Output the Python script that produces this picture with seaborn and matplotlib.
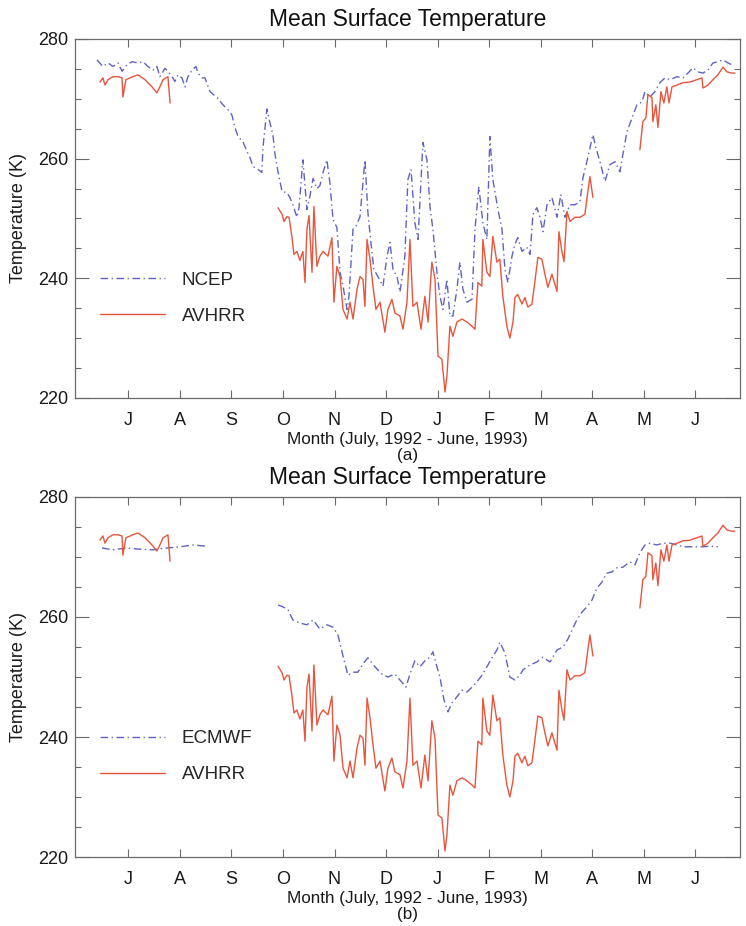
import numpy as np
import pandas as pd
import matplotlib
matplotlib.use("Agg")
import matplotlib.pyplot as plt
import seaborn as sns
from matplotlib.lines import Line2D
from matplotlib.ticker import MultipleLocator

sns.set_theme(style="ticks")
plt.rcParams["font.family"] = ["Liberation Sans", "DejaVu Sans"]

# ---------------- data (day of record, July 1 1992 = 0) ----------------
month_labels = ["J", "A", "S", "O", "N", "D", "J", "F", "M", "A", "M", "J"]

ncep_day = [0, 3.4, 6.3, 9.1, 12.0, 14.3, 17.1, 20.0, 23.4, 26.2,
            29.1, 32.0, 34.2, 35.9, 38.8, 40.5, 42.8, 44.5, 46.2, 48.5,
            50.2, 51.9, 54.2, 56.5, 57.6, 59.9, 61.6, 64.5, 68.5, 71.9,
            74.7, 77.0, 78.7, 80.5, 83.3, 85.6, 87.3, 89.0, 91.9, 94.1,
            94.7, 97.0, 98.7, 100.4, 101.6, 103.3, 105.6, 108.4, 110.1, 111.8,
            114.1, 115.3, 117.5, 119.8, 121.5, 123.3, 125.5, 127.2, 129.0, 131.2,
            132.9, 134.7, 136.9, 138.7, 140.4, 142.7, 143.8, 146.1, 147.8, 150.1,
            152.9, 154.6, 156.3, 158.0, 160.3, 163.2, 165.5, 167.2, 168.9, 171.2,
            172.9, 175.7, 177.4, 179.2, 181.4, 183.2, 186.0, 188.3, 190.0, 191.7,
            194.0, 195.7, 197.4, 199.7, 201.4, 203.1, 205.4, 207.1, 208.8, 211.1,
            214.0, 215.7, 217.9, 220.2, 222.5, 224.2, 225.9, 228.8, 231.1, 232.8,
            234.5, 236.8, 238.5, 240.1, 242.5, 245.3, 247.1, 248.8, 251.0, 252.8,
            254.5, 256.8, 259.6, 262.5, 264.7, 267.0, 269.9, 272.7, 275.6, 277.3,
            280.1, 283.0, 284.7, 287.0, 289.9, 292.7, 295.6, 298.4, 300.1, 302.4,
            305.3, 308.1, 311.0, 312.7, 315.5, 318.4, 321.2, 324.1, 327.0, 331.0,
            334.4, 337.2, 340.1, 342.9, 345.8, 348.6, 351.5, 354.3, 357.2, 360.0,
            362.3]
ncep_temp = [276.5, 275.4, 276.0, 275.4, 276.0, 274.6, 275.7, 276.2, 276.0, 276.2,
             275.4, 274.8, 275.4, 273.7, 275.1, 274.6, 273.7, 272.9, 274.0, 273.5,
             272.0, 273.7, 274.8, 275.4, 274.3, 273.5, 273.5, 271.2, 270.2, 269.0,
             268.2, 267.3, 265.2, 263.7, 262.8, 261.2, 260.2, 258.7, 258.2, 257.7,
             261.8, 268.3, 266.0, 264.0, 260.7, 257.8, 254.5, 254.3, 253.5, 252.3,
             250.2, 251.8, 259.8, 251.5, 253.7, 256.7, 255.0, 255.5, 257.7, 259.8,
             256.0, 249.8, 248.5, 241.0, 238.7, 234.8, 237.0, 248.2, 248.7, 250.3,
             259.8, 251.0, 246.0, 241.5, 240.3, 238.7, 243.7, 246.0, 241.5, 240.3,
             237.7, 243.7, 256.5, 258.2, 249.3, 246.5, 262.7, 259.8, 252.0, 248.2,
             241.0, 237.0, 234.8, 239.8, 233.7, 233.7, 238.2, 242.7, 238.2, 236.0,
             236.5, 248.2, 255.3, 249.3, 246.5, 263.7, 256.5, 251.5, 248.2, 241.5,
             239.3, 243.7, 245.7, 246.8, 244.5, 245.2, 244.0, 250.7, 251.8, 250.2,
             247.8, 252.3, 253.5, 250.2, 254.0, 250.2, 252.3, 252.3, 252.8, 256.8,
             260.2, 264.0, 261.8, 259.5, 256.2, 259.0, 259.5, 257.8, 260.7, 264.5,
             266.8, 269.0, 269.5, 271.2, 270.3, 271.2, 272.7, 273.5, 273.2, 273.7,
             273.5, 274.3, 275.2, 274.5, 274.3, 274.8, 276.0, 276.2, 276.5, 276.0,
             275.7]

avhrr_day = [1.7, 3.4, 4.6, 6.3, 9.1, 12.0, 14.3, 14.8, 16.5, 20.5,
             23.4, 27.4, 31.4, 34.2, 35.9, 37.7, 40.5, 41.7,
             70.0,
             103.3, 105.6, 106.7, 108.4, 109.6, 111.3, 112.4, 114.1, 115.8, 117.5,
             118.7, 119.8, 121.0, 122.7, 123.8, 125.5, 127.2, 129.0, 131.8, 134.1,
             135.2, 136.9, 138.7, 140.4, 142.7, 144.4, 146.1, 148.4, 150.1, 151.8,
             152.9, 154.1, 155.8, 157.5, 159.2, 161.5, 164.3, 166.0, 168.3, 170.0,
             172.9, 174.6, 176.9, 178.6, 180.3, 182.6, 184.9, 187.1, 188.9, 191.1,
             192.9, 194.6, 196.8, 198.6, 199.7, 201.4, 203.1, 205.4, 208.3, 211.1,
             214.0, 215.7, 217.4, 219.6, 220.2, 222.5, 224.2, 225.9, 228.2, 229.9,
             231.6, 233.9, 235.6, 237.4, 238.5, 240.1, 242.5, 244.2, 245.9, 248.2,
             249.9, 251.6, 253.9, 255.6, 257.3, 259.6, 262.5, 263.6, 265.3, 266.5,
             268.2, 269.9, 272.7, 275.6, 278.4, 280.1, 281.3, 283.0,
             295.0,
             309.8, 311.5, 313.2, 314.4, 316.7, 317.2, 318.9, 320.1, 321.8, 323.5,
             325.2, 326.4, 328.1, 331.0, 334.4, 338.4, 342.3, 345.2, 345.8, 348.6,
             351.5, 354.3, 357.2, 359.5, 362.3, 364.0]
avhrr_temp = [272.8, 273.5, 272.3, 273.2, 273.7, 273.7, 273.5, 270.3, 273.2, 273.7,
              274.0, 273.2, 272.0, 271.0, 272.0, 273.2, 273.7, 269.3,
              np.nan,
              251.8, 250.7, 249.5, 250.3, 250.2, 246.8, 244.0, 244.5, 243.0, 244.5,
              239.3, 248.2, 250.5, 241.0, 252.0, 242.0, 243.7, 244.5, 243.7, 246.8,
              236.0, 242.0, 240.3, 234.8, 233.2, 236.0, 233.2, 238.2, 240.3, 239.8,
              235.3, 246.5, 243.2, 238.7, 234.8, 236.0, 231.0, 234.8, 236.5, 234.2,
              233.7, 231.5, 236.0, 246.5, 235.3, 236.0, 231.5, 237.0, 232.7, 242.7,
              239.8, 227.0, 226.5, 221.0, 223.7, 232.0, 230.3, 232.7, 233.2, 232.7,
              232.0, 231.5, 239.3, 238.7, 246.5, 241.0, 240.3, 247.0, 242.7, 243.2,
              237.0, 232.0, 230.0, 232.7, 236.8, 237.3, 235.7, 236.8, 235.2, 235.7,
              239.5, 243.5, 243.2, 240.7, 238.5, 240.7, 237.8, 247.8, 244.5, 242.8,
              251.2, 249.5, 250.2, 250.2, 250.7, 254.5, 257.0, 253.5,
              np.nan,
              261.5, 266.2, 266.8, 270.7, 270.2, 266.2, 269.0, 265.2, 271.2, 269.3,
              272.0, 269.3, 272.0, 272.3, 272.7, 272.8, 273.2, 273.5, 271.8, 272.3,
              273.2, 274.0, 275.3, 274.5, 274.3, 274.3]

ecmwf_day = [2.9, 9.1, 17.1, 24.5, 32.0, 39.9, 47.4, 54.8, 62.7,
             80.0,
             103.3, 106.1, 109.0, 111.8, 115.8, 119.8, 123.3, 127.2, 131.2, 134.7,
             137.5, 140.4, 143.2, 146.1, 148.9, 151.8, 154.6, 158.6, 162.6, 166.0,
             170.0, 172.9, 176.3, 178.6, 181.4, 184.3, 187.1, 190.0, 191.7, 194.0,
             195.7, 198.0, 200.3, 202.6, 205.4, 208.3, 211.1, 214.0, 216.8, 219.7,
             222.5, 225.4, 228.2, 229.9, 232.8, 235.6, 238.5, 241.3, 243.1, 247.1,
             251.0, 254.5, 258.5, 262.5, 265.9, 268.7, 271.0, 273.8, 276.7, 279.6,
             282.4, 285.3, 288.1, 291.0, 293.8, 296.7, 300.1, 304.1, 307.0, 309.8,
             312.7, 315.5, 319.5, 322.9, 327.0, 331.0, 334.4, 338.4, 342.3, 345.8,
             349.8, 354.3]
ecmwf_temp = [271.5, 271.2, 271.5, 271.3, 271.2, 271.5, 271.7, 272.0, 271.8,
              np.nan,
              262.0, 261.7, 261.2, 259.5, 259.0, 258.7, 259.5, 258.0, 258.7, 258.3,
              257.0, 253.5, 250.3, 250.8, 250.8, 252.2, 253.2, 251.7, 250.5, 250.0,
              250.5, 249.5, 248.3, 250.5, 252.7, 251.7, 252.7, 253.3, 254.2, 251.7,
              250.0, 246.2, 244.2, 245.7, 246.7, 247.8, 247.5, 248.3, 249.2, 250.3,
              251.7, 253.2, 254.5, 255.8, 254.0, 250.0, 249.5, 250.3, 251.2, 252.0,
              252.5, 253.3, 252.5, 254.5, 255.0, 256.3, 257.8, 259.5, 260.8, 261.7,
              262.8, 264.8, 265.8, 267.3, 267.5, 268.2, 268.3, 269.2, 268.7, 270.7,
              272.0, 272.3, 272.0, 272.3, 272.3, 272.0, 271.7, 271.7, 271.7, 271.7,
              271.8, 271.7]

# ---------------- styling ----------------
BLUE = "#5f62c4"
RED = "#e8553d"
DASHDOT = (5.5, 2.5, 1.0, 2.5)
SPINE = "#6a6a6a"


def to_df(days, temps):
    df = pd.DataFrame({"day": days, "temp": temps})
    df["seg"] = df["temp"].isna().cumsum()
    return df.dropna()


df_ncep = to_df(ncep_day, ncep_temp)
df_avhrr = to_df(avhrr_day, avhrr_temp)
df_ecmwf = to_df(ecmwf_day, ecmwf_temp)

tick_pos = 17.9 + 29.41 * np.arange(12)

fig = plt.figure(figsize=(7.46, 9.26), dpi=100)
ax_a = fig.add_axes([0.1005, 0.5702, 0.8914, 0.3877])
ax_b = fig.add_axes([0.1005, 0.0745, 0.8914, 0.3888])


def draw(ax, df_model, model_name, panel):
    sns.lineplot(data=df_model, x="day", y="temp", units="seg", estimator=None,
                 sort=False, color=BLUE, linewidth=1.0, dashes=False,
                 linestyle=(0, DASHDOT), ax=ax, legend=False)
    sns.lineplot(data=df_avhrr, x="day", y="temp", units="seg", estimator=None,
                 sort=False, color=RED, linewidth=1.0, ax=ax, legend=False)
    ax.set_xlim(-12.55, 366.9)
    ax.set_ylim(220, 280)
    ax.set_xticks(tick_pos)
    ax.set_xticklabels(month_labels)
    ax.yaxis.set_major_locator(MultipleLocator(20))
    ax.yaxis.set_minor_locator(MultipleLocator(5))
    ax.tick_params(axis="x", which="both", direction="in", top=True, bottom=True,
                   length=6, width=0.8, color=SPINE, labelsize=13, pad=10,
                   labelcolor="#1a1a1a")
    ax.tick_params(axis="y", which="major", direction="in", left=True, right=True,
                   length=10, width=0.8, color=SPINE, labelsize=13, pad=5,
                   labelcolor="#1a1a1a")
    ax.tick_params(axis="y", which="minor", direction="in", left=True, right=True,
                   length=4, width=0.8, color=SPINE)
    for s in ax.spines.values():
        s.set_color(SPINE)
        s.set_linewidth(0.9)
    ax.set_title("Mean Surface Temperature", fontsize=16.5, pad=9, color="#111111")
    ax.set_xlabel("Month (July, 1992 - June, 1993)\n" + panel, fontsize=12.3,
                  linespacing=1.15, labelpad=2, color="#1a1a1a")
    ax.set_ylabel("Temperature (K)", fontsize=13, labelpad=8, color="#1a1a1a")
    handles = [Line2D([], [], color=BLUE, linewidth=1.0, linestyle=(0, DASHDOT)),
               Line2D([], [], color=RED, linewidth=1.0)]
    ax.legend(handles, [model_name, "AVHRR"], loc="upper left",
              bbox_to_anchor=(0.0376, 0.352), frameon=False, fontsize=13.5,
              handlelength=3.47, handletextpad=0.9, labelspacing=1.0,
              borderpad=0, borderaxespad=0)


draw(ax_a, df_ncep, "NCEP", "(a)")
draw(ax_b, df_ecmwf, "ECMWF", "(b)")

fig.savefig("out.png", dpi=100, facecolor="white")
